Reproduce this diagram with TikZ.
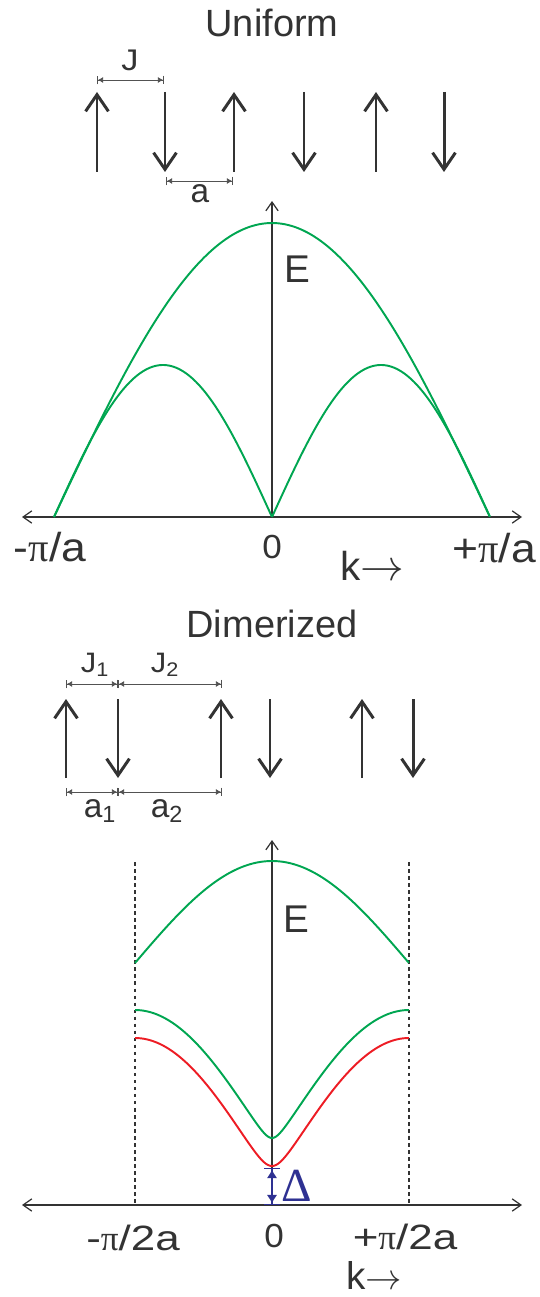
\documentclass[tikz,border=0pt]{standalone}
\usepackage{fontspec}
\setmainfont{Liberation Sans}
\newfontfamily\symfont{Liberation Serif}
\usepackage{tikz}
\usetikzlibrary{arrows.meta, calc}
\definecolor{ktext}{HTML}{333333}
\definecolor{kband}{HTML}{00A651}
\definecolor{kred}{HTML}{ED1C24}
\definecolor{kgap}{HTML}{2E3192}
\newcommand{\spinup}[3]{%
  \draw[spin] (#1,#2) -- (#1,#3);
}
\newcommand{\spindown}[3]{%
  \draw[spin] (#1,#3) -- (#1,#2);
}
\newcommand{\lblfont}[2]{\fontsize{#1}{#1}\selectfont\addfontfeatures{FakeStretch=#2}}

\begin{document}
\begin{tikzpicture}[x=0.02cm, y=-0.02cm,
  axtip/.tip={Straight Barb[length=5pt,width=7pt]},
  spin/.style={draw=ktext, line width=1.7pt, -{Straight Barb[length=9.5pt,width=13pt]}},
  axis/.style={draw=ktext, line width=0.7pt},
  dim/.style={draw=ktext!85, line width=0.5pt,
    {Bar[width=5pt]Latex[length=3pt,width=3.5pt]}-{Latex[length=3pt,width=3.5pt]Bar[width=5pt]}},
  gaparrow/.style={draw=kgap, line width=0.8pt,
    {Bar[width=9pt]Latex[length=5pt,width=6pt]}-{Latex[length=5pt,width=6pt]Bar[width=9pt]}},
  band/.style={draw=kband, line width=1.1pt},
  gapband/.style={draw=kred, line width=1.1pt},
  zone/.style={draw=ktext, line width=1.1pt, dash pattern=on 2pt off 2pt},
  lbl/.style={text=ktext, inner sep=0pt, anchor=base}]

  \useasboundingbox (0,0) rectangle (539,1297);

  %% Uniform chain: spins at 97..444, 92-172
  \node[lbl, font=\lblfont{21.6}{1}] (uniform) at (272,37) {Uniform};
  \spinup{97}{172}{92}
  \spindown{165}{172}{92}
  \spinup{234}{172}{92}
  \spindown{304}{172}{92}
  \spinup{376}{172}{92}
  \spindown{444}{172}{92}

  \coordinate (jl) at (97,80);
  \coordinate (jr) at (164,80);
  \coordinate (al) at (166,181);
  \coordinate (ar) at (233,181);
  \draw[dim] (jl) -- (jr);
  \draw[dim] (al) -- (ar);
  \node[lbl, font=\lblfont{17}{1.15}] (jlab) at (130,71) {J};
  \node[lbl, font=\lblfont{19}{1}] (alab) at (200,203) {a};

  %% Uniform dispersion: axis y=517, E axis x=272, u = (x-272)/218
  \coordinate (uo) at (272,517);
  \coordinate (ul) at (22,517);
  \coordinate (ur) at (522,517);
  \coordinate (ut) at (272,201);
  \draw[axis, {axtip}-{axtip}] (ul) -- (ur);
  \draw[axis, -{axtip}] (uo) -- (ut);

  \draw[band] plot[domain=-1:1, samples=120] ({272+218*\x},{517-294*cos(90*\x)});
  \draw[band] plot[domain=-1:0, samples=90] ({272+218*\x},{517-152*abs(sin(180*\x))});
  \draw[band] plot[domain=0:1, samples=90] ({272+218*\x},{517-152*abs(sin(180*\x))});

  \node[lbl, font=\lblfont{22}{1}] (ulabE) at (297,283) {E};
  \node[lbl, font=\lblfont{23}{1.1}] (ukmin) at (50,561) {-{\symfont π}/a};
  \node[lbl, font=\lblfont{19}{1.05}] (uzero) at (272,558) {0};
  \node[lbl, font=\lblfont{23}{1.1}] (ukmax) at (494,562) {+{\symfont π}/a};
  \node[lbl, font=\lblfont{23}{1}] (uk) at (372,580) {k$\rightarrow$};

  %% Dimerized chain: pairs at 66/118, 221/270, 362/413
  \node[lbl, font=\lblfont{21.6}{1}] (dimerized) at (272,637) {Dimerized};
  \spinup{66}{778}{699}
  \spindown{118}{778}{699}
  \spinup{221}{778}{699}
  \spindown{270}{778}{699}
  \spinup{362}{778}{699}
  \spindown{413}{778}{699}

  \coordinate (j1l) at (66,684);
  \coordinate (j1r) at (118,684);
  \coordinate (j2r) at (222,684);
  \coordinate (a1l) at (66,792);
  \coordinate (a1r) at (118,792);
  \coordinate (a2r) at (222,792);
  \draw[dim] (j1l) -- (j1r);
  \draw[dim] (j1r) -- (j2r);
  \draw[dim] (a1l) -- (a1r);
  \draw[dim] (a1r) -- (a2r);
  \node[lbl, font=\lblfont{16}{1.1}] (j1lab) at (95,672) {J\textsubscript{1}};
  \node[lbl, font=\lblfont{16}{1.1}] (j2lab) at (165,672) {J\textsubscript{2}};
  \node[lbl, font=\lblfont{19}{1}] (a1lab) at (100,817) {a\textsubscript{1}};
  \node[lbl, font=\lblfont{19}{1}] (a2lab) at (167,817) {a\textsubscript{2}};

  %% Dimerized dispersion: axis y=1205, zone edges x=135/409, u = (x-272)/137
  \coordinate (do) at (272,1205);
  \coordinate (dl) at (22,1205);
  \coordinate (dr) at (522,1205);
  \coordinate (dt) at (272,840);
  \coordinate (zlt) at (135,862);
  \coordinate (zlb) at (135,1205);
  \coordinate (zrt) at (409,862);
  \coordinate (zrb) at (409,1205);
  \draw[axis, {axtip}-{axtip}] (dl) -- (dr);
  \draw[axis, -{axtip}] (do) -- (dt);
  \draw[zone] (zlt) -- (zlb);
  \draw[zone] (zrt) -- (zrb);

  \draw[band] plot[domain=-1:1, samples=100] ({272+137*\x},{861+102*(1-cos(90*\x))});
  \draw[band] plot[domain=-1:1, samples=160]
    ({272+137*\x},{1138-128*(sqrt(0.01+(sin(90*\x))^2)-0.1)/(sqrt(1.01)-0.1)});
  \draw[gapband] plot[domain=-1:1, samples=160]
    ({272+137*\x},{1166-128*(sqrt(0.0225+(sin(90*\x))^2)-0.15)/(sqrt(1.0225)-0.15)});

  \coordinate (gtop) at (272,1168);
  \draw[gaparrow] (gtop) -- (do);
  \node[lbl, text=kgap, font=\symfont\fontsize{27}{27}\selectfont] (gaplab) at (297,1201) {Δ};

  \node[lbl, font=\lblfont{22}{1}] (dlabE) at (296,932) {E};
  \node[lbl, font=\lblfont{20}{1.25}] (dkmin) at (133,1250) {-{\symfont π}/2a};
  \node[lbl, font=\lblfont{19}{1.05}] (dzero) at (274,1247) {0};
  \node[lbl, font=\lblfont{20}{1.25}] (dkmax) at (405,1249) {+{\symfont π}/2a};
  \node[lbl, font=\lblfont{22}{1}] (dk) at (374,1289) {k$\rightarrow$};

\end{tikzpicture}
\end{document}
